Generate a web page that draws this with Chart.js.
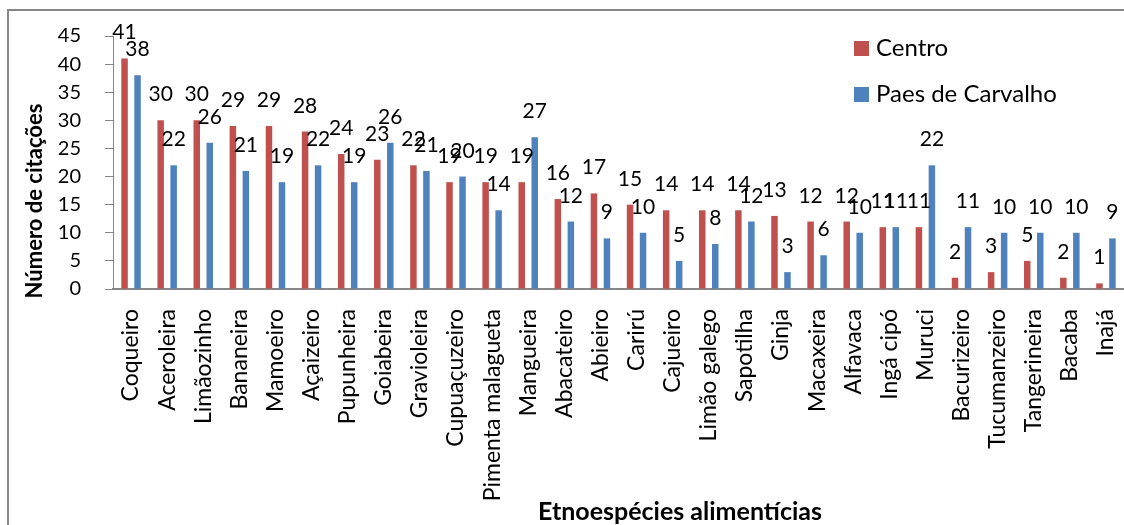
<!DOCTYPE html>
<html>
<head>
<meta charset="utf-8">
<script src="https://cdn.jsdelivr.net/npm/chart.js@4.4.1/dist/chart.umd.min.js"></script>
<style>
  html, body { margin: 0; padding: 0; background: #fff; }
  #wrap { width: 1124px; height: 525px; }
</style>
</head>
<body>
<div id="wrap"><canvas id="chart" width="1124" height="525"></canvas></div>
<script>
// species names (x axis)
const species = ['Coqueiro', 'Aceroleira', 'Limãozinho', 'Bananeira', 'Mamoeiro', 'Açaizeiro',
  'Pupunheira', 'Goiabeira', 'Gravioleira', 'Cupuaçuzeiro', 'Pimenta malagueta', 'Mangueira',
  'Abacateiro', 'Abieiro', 'Carirú', 'Cajueiro', 'Limão galego', 'Sapotilha', 'Ginja',
  'Macaxeira', 'Alfavaca', 'Ingá cipó', 'Muruci', 'Bacurizeiro', 'Tucumanzeiro',
  'Tangerineira', 'Bacaba', 'Inajá'];

const centro = [41, 30, 30, 29, 29, 28, 24, 23, 22, 19, 19, 19, 16, 17, 15, 14, 14, 14, 13,
  12, 12, 11, 11, 2, 3, 5, 2, 1];
const paesDeCarvalho = [38, 22, 26, 21, 19, 22, 19, 26, 21, 20, 14, 27, 12, 9, 10, 5, 8, 12, 3,
  6, 10, 11, 22, 11, 10, 10, 10, 9];

const yTicks = [0, 5, 10, 15, 20, 25, 30, 35, 40, 45];

const RED = '#C0504D';
const BLUE = '#4F81BD';
const AXIS = '#868686';
const FONT = 'Lato';

// value labels above each bar
const barLabels = {
  id: 'barLabels',
  afterDatasetsDraw(chart) {
    const ctx = chart.ctx;
    ctx.save();
    ctx.font = '21px ' + FONT;
    ctx.fillStyle = '#000';
    ctx.textAlign = 'center';
    ctx.textBaseline = 'alphabetic';
    chart.data.datasets.forEach((ds, i) => {
      chart.getDatasetMeta(i).data.forEach((bar, j) => {
        ctx.fillText(ds.data[j], bar.x, bar.y - 19);
      });
    });
    ctx.restore();
  }
};

// frame, legend and axis titles like the excel export
const decor = {
  id: 'decor',
  afterDraw(chart) {
    const ctx = chart.ctx;
    ctx.save();
    ctx.strokeStyle = AXIS;
    ctx.lineWidth = 2;
    ctx.strokeRect(8, 10, 1140, 540);

    // legend
    ctx.font = '24px ' + FONT;
    ctx.textBaseline = 'middle';
    ctx.textAlign = 'left';
    const items = [['Centro', RED], ['Paes de Carvalho', BLUE]];
    items.forEach((it, k) => {
      const y = 48 + k * 46;
      ctx.fillStyle = it[1];
      ctx.fillRect(854, y - 7, 15, 15);
      ctx.fillStyle = '#000';
      ctx.fillText(it[0], 876, y);
    });

    // axis titles
    ctx.textAlign = 'center';
    ctx.font = 'bold 25px ' + FONT;
    ctx.fillText('Etnoespécies alimentícias', 680, 512);
    ctx.font = 'bold 22px ' + FONT;
    ctx.translate(35, 201);
    ctx.rotate(-Math.PI / 2);
    ctx.fillText('Número de citações', 0, 0);
    ctx.restore();
  }
};

new Chart(document.getElementById('chart'), {
  type: 'bar',
  data: {
    labels: species,
    datasets: [
      { label: 'Centro', data: centro, backgroundColor: RED },
      { label: 'Paes de Carvalho', data: paesDeCarvalho, backgroundColor: BLUE }
    ]
  },
  options: {
    responsive: false,
    animation: false,
    devicePixelRatio: 1,
    layout: { padding: { top: 32, right: 0, left: 0, bottom: 0 } },
    datasets: {
      bar: { categoryPercentage: 0.72, barPercentage: 0.5 }
    },
    plugins: {
      legend: { display: false },
      tooltip: { enabled: false }
    },
    scales: {
      x: {
        grid: { display: true, drawOnChartArea: false, drawTicks: true, tickLength: 20, color: 'transparent' },
        border: { color: AXIS, width: 2 },
        ticks: { minRotation: 90, maxRotation: 90, autoSkip: false, padding: 0, color: '#000', font: { family: FONT, size: 23 } },
        afterFit(scale) {
          scale.height = 236;
          scale.paddingLeft = 0;
          scale.paddingRight = 0;
        }
      },
      y: {
        min: 0,
        max: 45,
        afterBuildTicks(scale) {
          scale.ticks = yTicks.map(v => ({ value: v }));
        },
        grid: { display: true, drawOnChartArea: false, drawTicks: true, tickLength: 8, color: AXIS, lineWidth: 1 },
        border: { color: AXIS, width: 1 },
        ticks: { padding: 24, color: '#000', font: { family: FONT, size: 20 } },
        afterFit(scale) {
          scale.width = 113;
        }
      }
    }
  },
  plugins: [barLabels, decor]
});
</script>
</body>
</html>
